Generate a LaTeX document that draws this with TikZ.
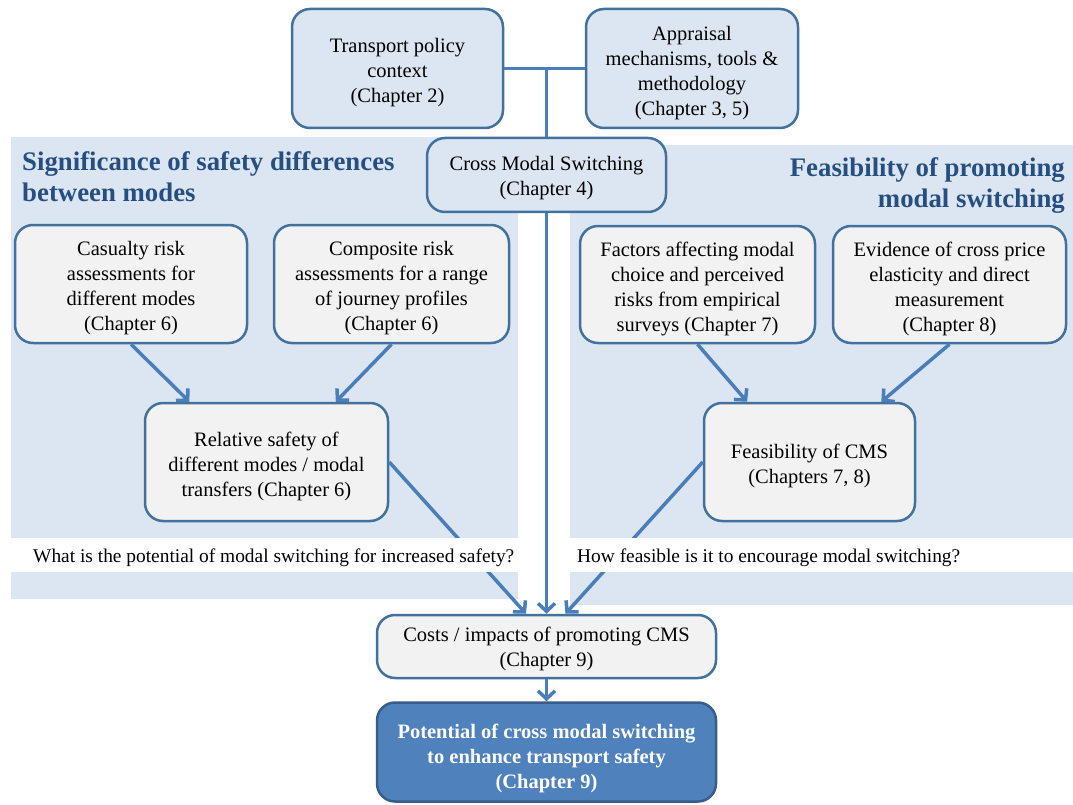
\documentclass[tikz,border=0pt]{standalone}
\usepackage{fontspec}
\setmainfont{Liberation Serif}
\usetikzlibrary{arrows.meta}
\definecolor{panel}{HTML}{DCE6F2}
\definecolor{edge}{HTML}{41719C}
\definecolor{link}{HTML}{4A7EBB}
\definecolor{pale}{HTML}{F2F2F2}
\definecolor{deep}{HTML}{4F81BD}
\definecolor{deepedge}{HTML}{385D8A}
\definecolor{heading}{HTML}{254F80}
% taller first line, so that box texts sit a little lower
\newcommand{\firstline}[1]{\rule{0pt}{#1}}
\begin{document}
\begin{tikzpicture}[x=1pt,y=-1pt,
  box/.style={draw=edge, line width=2.5pt, rounded corners=18pt, align=center,
    inner sep=0pt, font=\fontsize{20.5}{25}\selectfont},
  topbox/.style={box, fill=panel},
  innerbox/.style={box, fill=pale},
  finalbox/.style={box, fill=deep, draw=deepedge, text=white,
    font=\fontsize{20.5}{25}\selectfont\bfseries},
  link/.style={draw=link, line width=3.5pt},
  arrowlink/.style={link, -{Straight Barb[length=8pt,width=17pt]}},
  headingtext/.style={text=heading, inner sep=0pt,
    font=\fontsize{26.8}{31}\selectfont\bfseries},
  strip/.style={fill=white, anchor=north west, minimum height=34pt, inner sep=0pt},
  question/.style={anchor=west, inner sep=0pt, yshift=-3pt,
    font=\fontsize{19.4}{24}\selectfont},
]
\useasboundingbox (0,0) rectangle (1073,805);

% background panels
\fill[panel] (11,137) rectangle (518,599);
\fill[panel] (570,145) rectangle (1073,605);

% panel headings
\node[headingtext, anchor=north west, align=left] (hleft) at (22,151)
  {Significance of safety differences\\between modes};
\node[headingtext, anchor=north east, align=right] (hright) at (1065,157)
  {Feasibility of promoting\\modal switching};

% top row
\node[topbox, minimum width=211pt, minimum height=119pt] (policy) at (397.5,68.5)
  {\firstline{22.5pt}Transport policy\\context\\(Chapter 2)};
\node[topbox, minimum width=212pt, minimum height=119pt] (appraisal) at (692,68.5)
  {\firstline{22.5pt}Appraisal\\mechanisms, tools \&\\methodology\\(Chapter 3, 5)};
\node[topbox, minimum width=239pt, minimum height=74pt] (cms) at (546.5,175)
  {\firstline{21pt}Cross Modal Switching\\(Chapter 4)};

% evidence boxes
\node[innerbox, minimum width=232pt, minimum height=118pt] (casualty) at (131,284)
  {\firstline{22.5pt}Casualty risk\\assessments for\\different modes\\(Chapter 6)};
\node[innerbox, minimum width=235pt, minimum height=118pt] (composite) at (391.5,284)
  {\firstline{22.5pt}Composite risk\\assessments for a range\\of journey profiles\\(Chapter 6)};
\node[innerbox, minimum width=235pt, minimum height=117pt] (factors) at (697.5,284.5)
  {\firstline{22.5pt}Factors affecting modal\\choice and perceived\\risks from empirical\\surveys (Chapter 7)};
\node[innerbox, minimum width=233pt, minimum height=117pt] (evidence) at (949.5,284.5)
  {\firstline{22.5pt}Evidence of cross price\\elasticity and direct\\measurement\\(Chapter 8)};

% synthesis boxes
\node[innerbox, minimum width=243pt, minimum height=118pt] (relative) at (266.5,462)
  {\firstline{22.5pt}Relative safety of\\different modes / modal\\transfers (Chapter 6)};
\node[innerbox, minimum width=211pt, minimum height=118pt] (feasible) at (809.5,462)
  {\firstline{22.5pt}Feasibility of CMS\\(Chapters 7, 8)};

% outcome boxes
\node[innerbox, minimum width=339pt, minimum height=63pt] (costs) at (546.5,646.5)
  {\firstline{18.5pt}Costs / impacts of promoting CMS\\(Chapter 9)};
\node[finalbox, minimum width=339pt, minimum height=99pt] (potential) at (546.5,752)
  {\firstline{27pt}Potential of cross modal switching\\to enhance transport safety\\(Chapter 9)};

% connectors
\coordinate (join) at (546.5,68.5);
\draw[link] (policy) -- (appraisal);
\draw[link] (join) -- (cms.north);
\draw[arrowlink] (cms.south) -- (costs.north);
\draw[arrowlink] (casualty.south) -- (relative.142);
\draw[arrowlink] (composite.south) -- (relative.41);
\draw[arrowlink] (factors.south) -- (feasible.136);
\draw[arrowlink] (evidence.south) -- (feasible.40);
\draw[arrowlink] (relative.east) -- (costs.122);
\draw[arrowlink] (feasible.west) -- (costs.60);
\draw[arrowlink] (costs.south) -- (potential.north);

% question strips, laid over the crossing connectors
\node[strip, minimum width=507pt] (qleft) at (11,538) {};
\node[question, xshift=22pt] (qlefttext) at (qleft.west)
  {What is the potential of modal switching for increased safety?};
\node[strip, minimum width=503pt] (qright) at (570,538) {};
\node[question, xshift=7pt] (qrighttext) at (qright.west)
  {How feasible is it to encourage modal switching?};
\end{tikzpicture}
\end{document}
